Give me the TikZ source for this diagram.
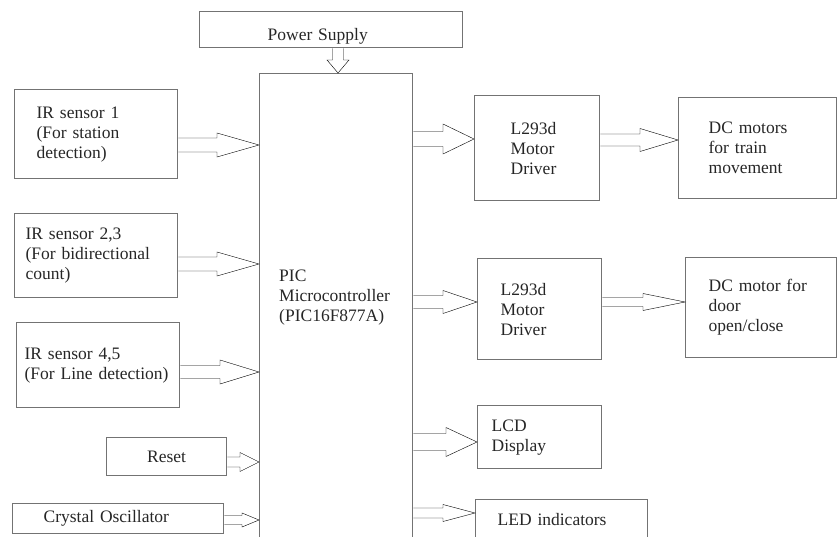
\documentclass[tikz,border=0pt]{standalone}
\usepackage{fontspec}
\setmainfont{Liberation Serif}
\usetikzlibrary{calc}
\begin{document}
\begin{tikzpicture}[x=1pt,y=-1pt,
  blk/.style={draw=black!55, line width=1.3pt, anchor=north west, align=left, inner ysep=0pt,
    text=black!85, font=\fontsize{17.5}{20}\selectfont},
  txt/.style={align=left, inner sep=0pt, text=black!85, font=\fontsize{17.5}{20}\selectfont},
  % hollow block arrows: shaft half width / head half width / head length
  harr/.style args={#1/#2/#3}{draw=black!55, line width=1.1pt, line join=miter,
    to path={let \p1=(\tikztostart), \p2=(\tikztotarget) in
      (\x1,\y1+#1pt) -- (\x2-#3pt,\y1+#1pt) -- (\x2-#3pt,\y1+#2pt) -- (\x2,\y1)
      -- (\x2-#3pt,\y1-#2pt) -- (\x2-#3pt,\y1-#1pt) -- (\x1,\y1-#1pt)}},
  varr/.style args={#1/#2/#3}{draw=black!55, line width=1.1pt, line join=miter,
    to path={let \p1=(\tikztostart), \p2=(\tikztotarget) in
      (\x1-#1pt,\y1) -- (\x1-#1pt,\y2+#3pt) -- (\x1-#2pt,\y2+#3pt) -- (\x1,\y2)
      -- (\x1+#2pt,\y2+#3pt) -- (\x1+#1pt,\y2+#3pt) -- (\x1+#1pt,\y1)}}]
\clip (0,0) rectangle (837,537);
% left column
\node[blk, text width=127pt, inner xsep=68pt, minimum height=36pt, text height=26pt] (power) at (199,11) {Power Supply};
\node[blk, minimum width=153pt, minimum height=472pt] (pic) at (259,73) {};
\node[txt, anchor=west] (pictext) at (279,298) {PIC\\Microcontroller\\(PIC16F877A)};
\node[blk, text width=119pt, inner xsep=22pt, minimum height=89pt] (ir1) at (14,89) {IR sensor 1\\(For station\\detection)};
\node[blk, text width=141pt, inner xsep=11pt, minimum height=84pt] (ir23) at (14,213) {IR sensor 2,3\\(For bidirectional\\count)};
\node[blk, text width=147pt, inner xsep=8pt, minimum height=85pt] (ir45) at (16,322) {IR sensor 4,5\\(For Line detection)};
\node[blk, minimum width=120pt, minimum height=38pt] (reset) at (106,437) {Reset};
\node[blk, text width=149pt, inner xsep=31pt, minimum height=30pt] (xtal) at (12,503) {Crystal Oscillator};
% right column
\node[blk, text width=53pt, inner xsep=36pt, minimum height=105pt] (drva) at (474,95) {L293d\\Motor\\Driver};
\node[blk, text width=98pt, inner xsep=30pt, minimum height=101pt] (motora) at (678,97) {DC motors\\for train\\movement};
\node[blk, text width=78pt, inner xsep=23pt, minimum height=101pt] (drvb) at (477,258) {L293d\\Motor\\Driver};
\node[blk, text width=105pt, inner xsep=23pt, minimum height=100pt] (motorb) at (685,257) {DC motor for\\door\\open/close};
\node[blk, text width=96pt, inner xsep=14pt, minimum height=63pt] (lcd) at (477,405) {LCD\\Display};
\node[blk, text width=128pt, inner xsep=22pt, minimum height=40pt] (led) at (475,499) {LED indicators};
% arrows
\draw (338,0 |- power.south) to[varr=5.5/11/13] (338,0 |- pic.north);
\foreach \s/\t/\yy/\sw/\hw/\hl in {ir1/pic/145/7/12/42, ir23/pic/264/7/12/42, ir45/pic/372/6.5/12/39,
    reset/pic/462/5/9.5/19, xtal/pic/520/4.5/7/17, pic/drva/139/7.5/15/31, drva/motora/140/6/11.5/38,
    pic/drvb/302/6.5/11.5/34, drvb/motorb/302/4.5/8.5/42, pic/lcd/442/8.5/14.5/31, pic/led/513/5/8.5/32}
  \draw (\s.east |- 0,\yy) to[harr=\sw/\hw/\hl] (\t.west |- 0,\yy);
\end{tikzpicture}
\end{document}
